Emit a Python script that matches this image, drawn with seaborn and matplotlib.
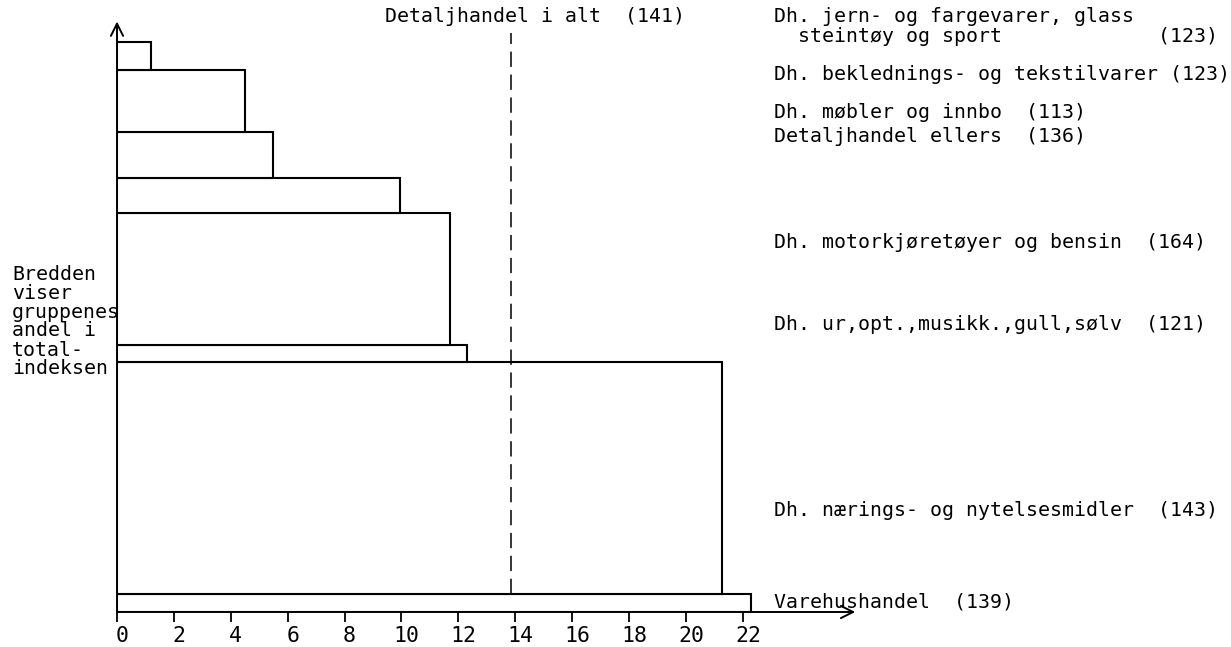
import numpy as np
import pandas as pd
import matplotlib
matplotlib.use("Agg")
import matplotlib.pyplot as plt
import matplotlib.transforms as mtransforms
import seaborn as sns

# Data, from bottom to top of the stack
grupper = [
    "Varehushandel",
    "Dh. nærings- og nytelsesmidler",
    "Dh. ur,opt.,musikk.,gull,sølv",
    "Dh. motorkjøretøyer og bensin",
    "Detaljhandel ellers",
    "Dh. møbler og innbo",
    "Dh. beklednings- og tekstilvarer",
    "Dh. jern- og fargevarer, glass steintøy og sport",
]
indeks = [139, 143, 121, 164, 136, 113, 123, 123]
# bar length along x axis (scale 0-22)
lengde = [22.3, 21.25, 12.3, 11.7, 9.95, 5.5, 4.5, 1.2]
# share of total index (bar thickness, percent)
andel = [3.2, 40.7, 3.0, 23.1, 6.1, 8.1, 10.9, 4.9]
detaljhandel_i_alt = 13.85
x_ticks = list(range(0, 23, 2))

W, H, DPI = 1231, 647, 100
FONT = "DejaVu Sans Mono"
FS = 14.3

sns.set_theme(style="white")
plt.rcParams["font.family"] = [FONT, "DejaVu Sans"]

andel_arr = np.array(andel)
bunn = np.cumsum(andel_arr) - andel_arr
midt = bunn + andel_arr / 2
df = pd.DataFrame({"lengde": lengde, "midt": midt})

fig = plt.figure(figsize=(W / DPI, H / DPI), dpi=DPI)
fig.patch.set_facecolor("white")

# axes placed so that x=0 is at px 117, y=0 at px 612
px_x, px_y = 28.45, 5.7
xmax, ymax = 26.0, 104
ax = fig.add_axes([117 / W, 35 / H, xmax * px_x / W, ymax * px_y / H])

sns.barplot(data=df, x="lengde", y="midt", orient="h", native_scale=True,
            color="white", edgecolor="black", linewidth=1.5, ax=ax)

# give every bar its own thickness from the shares
for p in ax.patches:
    c = p.get_y() + p.get_height() / 2
    i = int(np.argmin(np.abs(midt - c)))
    p.set_y(bunn[i])
    p.set_height(andel_arr[i])
    p.set_facecolor("white")

ax.set_xlim(0, xmax)
ax.set_ylim(0, ymax)
ax.set_xlabel("")
ax.set_ylabel("")
ax.set_yticks([])
ax.set_xticks(x_ticks)
ax.set_xticklabels([str(t) for t in x_ticks], fontsize=15.5, family=FONT)
ax.tick_params(axis="x", direction="out", length=7, width=1.3, color="black",
               labelcolor="black", pad=3, bottom=True)
# hand lettered numbers sit a little right of the ticks
shift = mtransforms.ScaledTranslation(5 / DPI, 0, fig.dpi_scale_trans)
for lab in ax.get_xticklabels():
    lab.set_transform(lab.get_transform() + shift)
for s in ax.spines.values():
    s.set_visible(False)
ax.set_facecolor("none")

# axis arrows
arrow = dict(arrowstyle="->", lw=1.4, color="black", mutation_scale=22,
             shrinkA=0, shrinkB=0)
ax.annotate("", xy=(0, 103.6), xytext=(0, 0), arrowprops=arrow, annotation_clip=False)
ax.annotate("", xy=(xmax - 0.05, 0), xytext=(0, 0), arrowprops=arrow, annotation_clip=False)

# dashed total line
ax.plot([detaljhandel_i_alt, detaljhandel_i_alt], [andel[0], 101.5], color="black",
        lw=1.1, dashes=(10, 5), clip_on=False)


def put(px, py, s, **kw):
    fig.text(px / W, 1 - py / H, s, fontsize=FS, family=FONT, va="center",
             ha="left", color="black", **kw)


put(385, 17, f"Detaljhandel i alt  ({141})")

put(774, 17, "Dh. jern- og fargevarer, glass")
put(774, 36, f"  steintøy og sport             ({indeks[7]})")
put(774, 74, f"{grupper[6]} ({indeks[6]})")
put(774, 113, f"{grupper[5]}  ({indeks[5]})")
put(774, 136, f"{grupper[4]}  ({indeks[4]})")
put(774, 242, f"{grupper[3]}  ({indeks[3]})")
put(774, 324, f"{grupper[2]}  ({indeks[2]})")
put(774, 510, f"{grupper[1]}  ({indeks[1]})")
put(774, 602, f"{grupper[0]}  ({indeks[0]})")

venstre = ["Bredden", "viser", "gruppenes", "andel i", "total-", "indeksen"]
for k, linje in enumerate(venstre):
    put(12, 274 + 19 * k, linje)

fig.savefig("out.png", dpi=DPI, facecolor="white")
